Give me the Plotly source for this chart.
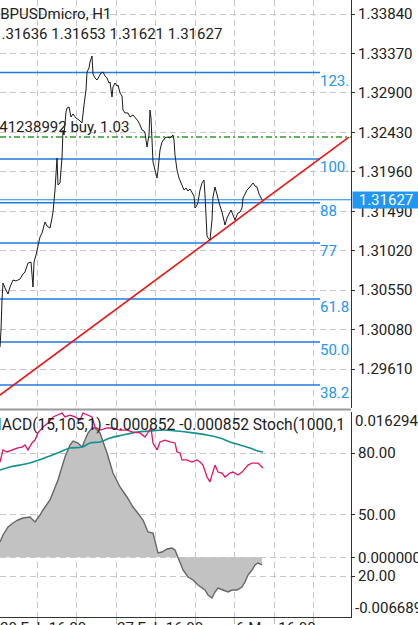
import plotly.graph_objects as go

# ---------------- data ----------------
symbol_title = "GBPUSDmicro, H1"
ohlc_text = "1.31636 1.31653 1.31621 1.31627"
order_text = "#41238992 buy, 1.03"
indicator_text = "MACD(15,105,1) -0.000852 -0.000852 Stoch(1000,1"

price_ticks = [1.33840, 1.33370, 1.32900, 1.32430, 1.31960, 1.31490, 1.31020, 1.30550, 1.30080, 1.29610]
price_range = [1.29146, 1.34007]

# (bar index, close)
close_path = [
    (0, 1.29872), (1, 1.30075), (2, 1.30433), (3, 1.30635), (5, 1.30576), (8, 1.30504), (10, 1.30587),
    (13, 1.30671), (16, 1.30659), (20, 1.30683), (23, 1.30742), (25, 1.30766), (28, 1.30873), (31, 1.30885),
    (33, 1.30587), (34, 1.30885), (36, 1.30969), (38, 1.31088), (40, 1.31183), (42, 1.31231), (45, 1.31362),
    (47, 1.31314), (50, 1.31290), (52, 1.31410), (53, 1.31481), (55, 1.31743), (57, 1.32124), (58, 1.31803),
    (60, 1.31827), (61, 1.31981), (62, 1.32124), (63, 1.32458), (64, 1.32399), (66, 1.32673), (67, 1.32720),
    (69, 1.32732), (71, 1.32613), (73, 1.32649), (76, 1.32601), (79, 1.32577), (82, 1.32542), (84, 1.32756),
    (86, 1.32935), (87, 1.33149), (88, 1.33173), (89, 1.33197), (90, 1.33268), (92, 1.33340), (93, 1.33125),
    (95, 1.33078), (97, 1.33054), (99, 1.33102), (101, 1.33137), (103, 1.33149), (105, 1.33102), (107, 1.33078),
    (109, 1.33018), (110, 1.33030), (111, 1.32935), (112, 1.32851), (113, 1.32970), (115, 1.33018), (117, 1.32982),
    (118, 1.32994), (120, 1.32899), (122, 1.32863), (123, 1.32696), (125, 1.32661), (128, 1.32661), (130, 1.32613),
    (133, 1.32637), (135, 1.32613), (137, 1.32589), (138, 1.32565), (140, 1.32518), (142, 1.32458), (144, 1.32446),
    (145, 1.32422), (147, 1.32256), (149, 1.32399), (150, 1.32696), (151, 1.32601), (152, 1.32339), (153, 1.32077),
    (155, 1.31981), (157, 1.31886), (158, 1.31981), (160, 1.32220), (162, 1.32315), (165, 1.32363), (167, 1.32375),
    (170, 1.32363), (173, 1.32399), (174, 1.32339), (175, 1.32160), (177, 1.31981), (179, 1.31886), (182, 1.31803),
    (184, 1.31743), (186, 1.31767), (188, 1.31731), (190, 1.31755), (192, 1.31707), (194, 1.31672), (195, 1.31529),
    (197, 1.31564), (198, 1.31600), (200, 1.31743), (202, 1.31827), (204, 1.31862), (205, 1.31684), (206, 1.31386),
    (207, 1.31195), (208, 1.31171), (210, 1.31147), (212, 1.31386), (213, 1.31660), (215, 1.31779), (217, 1.31684),
    (218, 1.31624), (220, 1.31553), (222, 1.31481), (224, 1.31362), (225, 1.31326), (227, 1.31410), (229, 1.31457),
    (231, 1.31505), (233, 1.31445), (235, 1.31386), (237, 1.31445), (238, 1.31469), (240, 1.31481), (242, 1.31529),
    (243, 1.31648), (245, 1.31707), (247, 1.31743), (249, 1.31767), (251, 1.31791), (253, 1.31827), (255, 1.31791),
    (257, 1.31779), (259, 1.31696), (261, 1.31648), (262, 1.31627),
]

bid_price = 1.31627
order_price = 1.32375
fib_labels = ["123.", "100.", "88", "77", "61.8", "50.0", "38.2"]
fib_prices = [1.33143, 1.32112, 1.31592, 1.31111, 1.30444, 1.29932, 1.29419]
fib_end_bar = 320
trend_bars = [0, 349]
trend_prices = [1.29300, 1.32374]

grid_bars = [37, 76.5, 116, 155.5, 195, 234.5, 274, 313.5]
time_label_bars = [-1, 116, 235]
time_labels = ["20 Feb 16:00", "27 Feb 16:00", "6 Mar 16:00"]
bar_range = [0, 351]

# MACD(15,105,1) histogram (bar index, value)
macd_path = [
    (0, 0.001720), (3, 0.002504), (8, 0.003401), (13, 0.003850), (18, 0.004186), (23, 0.004410), (30, 0.004522),
    (35, 0.003962), (40, 0.004747), (43, 0.005307), (50, 0.006428), (58, 0.008671), (65, 0.011249), (70, 0.012594),
    (73, 0.013043), (78, 0.012819), (82, 0.012370), (85, 0.013155), (88, 0.013940), (92, 0.014500), (95, 0.014500),
    (100, 0.013940), (107, 0.011697), (113, 0.009455), (120, 0.007886), (127, 0.006765), (133, 0.005644),
    (137, 0.005083), (143, 0.004186), (148, 0.002841), (153, 0.002729), (158, 0.000486), (162, 0.000599),
    (167, 0.000935), (172, 0.001047), (175, 0.000823), (178, -0.000074), (183, -0.001419), (188, -0.002204),
    (193, -0.002540), (198, -0.003101), (202, -0.003437), (205, -0.003662), (208, -0.004222), (212, -0.004558),
    (215, -0.003886), (218, -0.003437), (223, -0.003662), (228, -0.003886), (232, -0.003662), (237, -0.003662),
    (242, -0.003325), (245, -0.002765), (248, -0.001980), (252, -0.001419), (255, -0.000859), (258, -0.000635),
    (262, -0.000852),
]
macd_range = [-0.006689, 0.016294]
macd_max_label = "0.016294"
macd_min_label = "-0.006689"

# Stochastic %K and %D (bar index, value)
stoch_k_path = [
    (0, 75.6), (3, 81.5), (7, 80.5), (12, 81.5), (17, 82.4), (22, 82.9), (25, 83.9), (28, 81.5), (32, 84.9),
    (35, 86.3), (38, 89.8), (43, 92.7), (48, 94.6), (53, 97.6), (58, 98.5), (62, 99.5), (65, 97.6), (70, 98.5),
    (75, 97.6), (80, 96.1), (83, 99.5), (87, 98.5), (92, 97.6), (95, 92.7), (100, 91.2), (107, 92.2), (113, 92.2),
    (120, 91.2), (127, 91.2), (133, 90.2), (140, 89.8), (145, 87.8), (148, 90.2), (151, 92.2), (153, 84.9),
    (157, 81.5), (160, 85.4), (165, 86.3), (170, 85.4), (175, 84.9), (177, 80.5), (180, 80.0), (182, 76.6),
    (187, 76.6), (192, 75.6), (197, 76.6), (200, 75.6), (203, 74.1), (207, 68.3), (210, 65.9), (212, 69.3),
    (215, 74.1), (218, 70.7), (222, 70.2), (225, 68.3), (230, 70.2), (233, 70.7), (238, 69.3), (242, 70.7),
    (245, 72.7), (248, 74.1), (252, 75.1), (255, 75.1), (258, 75.1), (262, 73.2), (263, 72.7),
]
stoch_d_path = [
    (0, 71.7), (10, 73.2), (20, 74.1), (33, 75.6), (47, 78.0), (60, 80.5), (70, 82.4), (82, 82.9), (90, 84.9),
    (100, 85.4), (110, 87.3), (123, 88.8), (137, 90.2), (150, 90.7), (163, 91.2), (177, 90.7), (193, 89.8),
    (207, 88.8), (220, 87.3), (230, 85.4), (240, 83.9), (250, 82.4), (258, 81.0), (263, 80.5),
]
stoch_ticks = [20, 50, 80]
stoch_range = [0, 100]

# ---------------- styling / layout ----------------
W, H = 418, 625
MB = 8
PH = H - MB          # plot-area height in px
AXIS_X = 351         # px position of price axis
MAIN_BOTTOM = 408
SUB_TOP = 412
FONT = "Roboto"
FS = 15
TXT = "#212121"
GRID = "#c8c8c8"
GDASH = "6px,4px"
FIB_LINE = "#1f7ae0"
FIB_TEXT = "#2196f3"


def pxx(px):
    return px / W


def pxy(py):
    return 1 - py / PH


def bar_to_paper(b):
    # position of a bar index on the shared time axis, in paper units
    frac = (b - bar_range[0]) / (bar_range[1] - bar_range[0])
    return frac * pxx(AXIS_X)


def unzip(path):
    return [p[0] for p in path], [p[1] for p in path]


fig = go.Figure()

# fib lines
for lab, pr in zip(fib_labels, fib_prices):
    fig.add_trace(go.Scatter(x=[bar_range[0], fib_end_bar], y=[pr, pr], mode="lines",
                             line=dict(color=FIB_LINE, width=1.5), xaxis="x", yaxis="y",
                             hoverinfo="skip", showlegend=False))
# bid line
fig.add_trace(go.Scatter(x=bar_range, y=[bid_price, bid_price], mode="lines",
                         line=dict(color="#1e88e5", width=1.2), xaxis="x", yaxis="y",
                         hoverinfo="skip", showlegend=False))
# order line
fig.add_trace(go.Scatter(x=bar_range, y=[order_price, order_price], mode="lines",
                         line=dict(color="#2e9a2e", width=1.5, dash="6px,3px,2px,3px"),
                         xaxis="x", yaxis="y", hoverinfo="skip", showlegend=False))
# trend line
fig.add_trace(go.Scatter(x=trend_bars, y=trend_prices, mode="lines",
                         line=dict(color="#f01414", width=1.6), xaxis="x", yaxis="y",
                         hoverinfo="skip", showlegend=False, cliponaxis=True))
# price line
bx, cy = unzip(close_path)
fig.add_trace(go.Scatter(x=bx, y=cy, mode="lines", line=dict(color="#1a1a1a", width=1),
                         xaxis="x", yaxis="y", hoverinfo="skip", showlegend=False))

# MACD histogram area
mx, my = unzip(macd_path)
fig.add_trace(go.Scatter(x=mx, y=my, mode="lines", fill="tozeroy", fillcolor="#c2c2c2",
                         line=dict(color="#666666", width=1.4), xaxis="x2", yaxis="y2",
                         hoverinfo="skip", showlegend=False))
# stochastic
dx, dy = unzip(stoch_d_path)
fig.add_trace(go.Scatter(x=dx, y=dy, mode="lines", line=dict(color="#13918f", width=1.6, shape="spline"),
                         xaxis="x2", yaxis="y3", hoverinfo="skip", showlegend=False))
kx, ky = unzip(stoch_k_path)
fig.add_trace(go.Scatter(x=kx, y=ky, mode="lines", line=dict(color="#e3126a", width=1.3),
                         xaxis="x2", yaxis="y3", hoverinfo="skip", showlegend=False))

axfont = dict(family=FONT, size=FS, color=TXT)
xdom = [0, pxx(AXIS_X)]
main_dom = [pxy(MAIN_BOTTOM), 1]
sub_dom = [0, pxy(SUB_TOP)]

common_x = dict(domain=xdom, range=bar_range, showgrid=True, gridcolor=GRID, griddash=GDASH,
                gridwidth=1, tickmode="array", tickvals=grid_bars, showticklabels=False,
                zeroline=False, fixedrange=True)

fig.update_layout(
    width=W, height=H,
    margin=dict(l=0, r=0, t=0, b=MB, pad=0, autoexpand=False),
    paper_bgcolor="white", plot_bgcolor="white",
    font=axfont,
    showlegend=False,
    xaxis=dict(**common_x, anchor="y", ticks="", showline=False),
    xaxis2=dict(**common_x, anchor="y2", matches="x", ticks="outside", ticklen=6, tickcolor="#bbbbbb",
                showline=True, linecolor="#333333", linewidth=1),
    yaxis=dict(domain=main_dom, range=price_range, side="right", anchor="x",
               tickmode="array", tickvals=price_ticks, ticktext=[f"{v:.5f}" for v in price_ticks],
               ticks="outside", ticklen=3, tickcolor="#333333", showline=True, linecolor="#333333",
               linewidth=1, showgrid=True, gridcolor=GRID, griddash=GDASH, zeroline=False,
               tickfont=axfont, fixedrange=True),
    yaxis2=dict(domain=sub_dom, range=macd_range, side="right", anchor="x2",
                tickmode="array", tickvals=[0], ticktext=["0.000000"],
                ticks="outside", ticklen=3, tickcolor="#333333", showline=True, linecolor="#333333",
                linewidth=1, showgrid=True, gridcolor=GRID, griddash=GDASH, zeroline=False,
                tickfont=axfont, fixedrange=True),
    yaxis3=dict(overlaying="y2", range=stoch_range, side="right", anchor="x2",
                tickmode="array", tickvals=stoch_ticks, ticktext=[f"{v:.2f}" for v in stoch_ticks],
                ticks="outside", ticklen=3, tickcolor="#333333", showline=False,
                showgrid=True, gridcolor=GRID, griddash=GDASH, zeroline=False,
                tickfont=axfont, fixedrange=True),
)

shapes = [
    # pane separator
    dict(type="line", xref="paper", yref="paper", x0=0, x1=pxx(AXIS_X), y0=pxy(409.5), y1=pxy(409.5),
         line=dict(color="#9a9a9a", width=2)),
]
fig.update_layout(shapes=shapes)

ann = []


def text_ann(txt, px, py, shift=0, color=TXT, size=FS):
    ann.append(dict(text=txt, xref="paper", yref="paper", x=pxx(px), y=pxy(py), xanchor="left",
                    yanchor="middle", showarrow=False, xshift=shift, font=dict(family=FONT, size=size, color=color),
                    borderpad=0))


text_ann(symbol_title, 0, 14, shift=-11)
text_ann(ohlc_text, 0, 34, shift=-8)
text_ann(order_text, 0, 127, shift=-11)
text_ann(indicator_text, 0, 425, shift=-13.5, size=15.6)

# fib labels
for lab, pr in zip(fib_labels, fib_prices):
    ann.append(dict(text=lab, xref="x", yref="y", x=fib_end_bar, y=pr, xanchor="left", yanchor="top",
                    showarrow=False, xshift=-1, yshift=2, borderpad=0,
                    font=dict(family=FONT, size=FS, color=FIB_TEXT)))

# bid label box
ann.append(dict(text=f"{bid_price:.5f}", xref="paper", yref="y", x=pxx(AXIS_X + 1), y=bid_price,
                xanchor="left", yanchor="middle", showarrow=False, width=66, height=16, align="center",
                bgcolor="#2196f3", borderpad=0, font=dict(family=FONT, size=FS, color="white")))

# MACD extreme labels (drawn inside the pane like the terminal does)
ann.append(dict(text=macd_max_label, xref="paper", yref="y2", x=pxx(AXIS_X), y=macd_range[1],
                xanchor="left", yanchor="middle", yshift=-9, xshift=3, showarrow=False, borderpad=0,
                font=axfont))
ann.append(dict(text=macd_min_label, xref="paper", yref="y2", x=pxx(AXIS_X), y=macd_range[0],
                xanchor="left", yanchor="middle", yshift=9, xshift=3, showarrow=False, borderpad=0,
                font=axfont))

# time labels (left-aligned at their bar on the shared time axis)
for b, t in zip(time_label_bars, time_labels):
    ann.append(dict(text=t, xref="paper", yref="paper", x=bar_to_paper(b), y=0, xanchor="left",
                    yanchor="top", yshift=-1, showarrow=False, borderpad=0, font=axfont))

fig.update_layout(annotations=ann)

fig.write_html("out.html", config={"displayModeBar": False})
